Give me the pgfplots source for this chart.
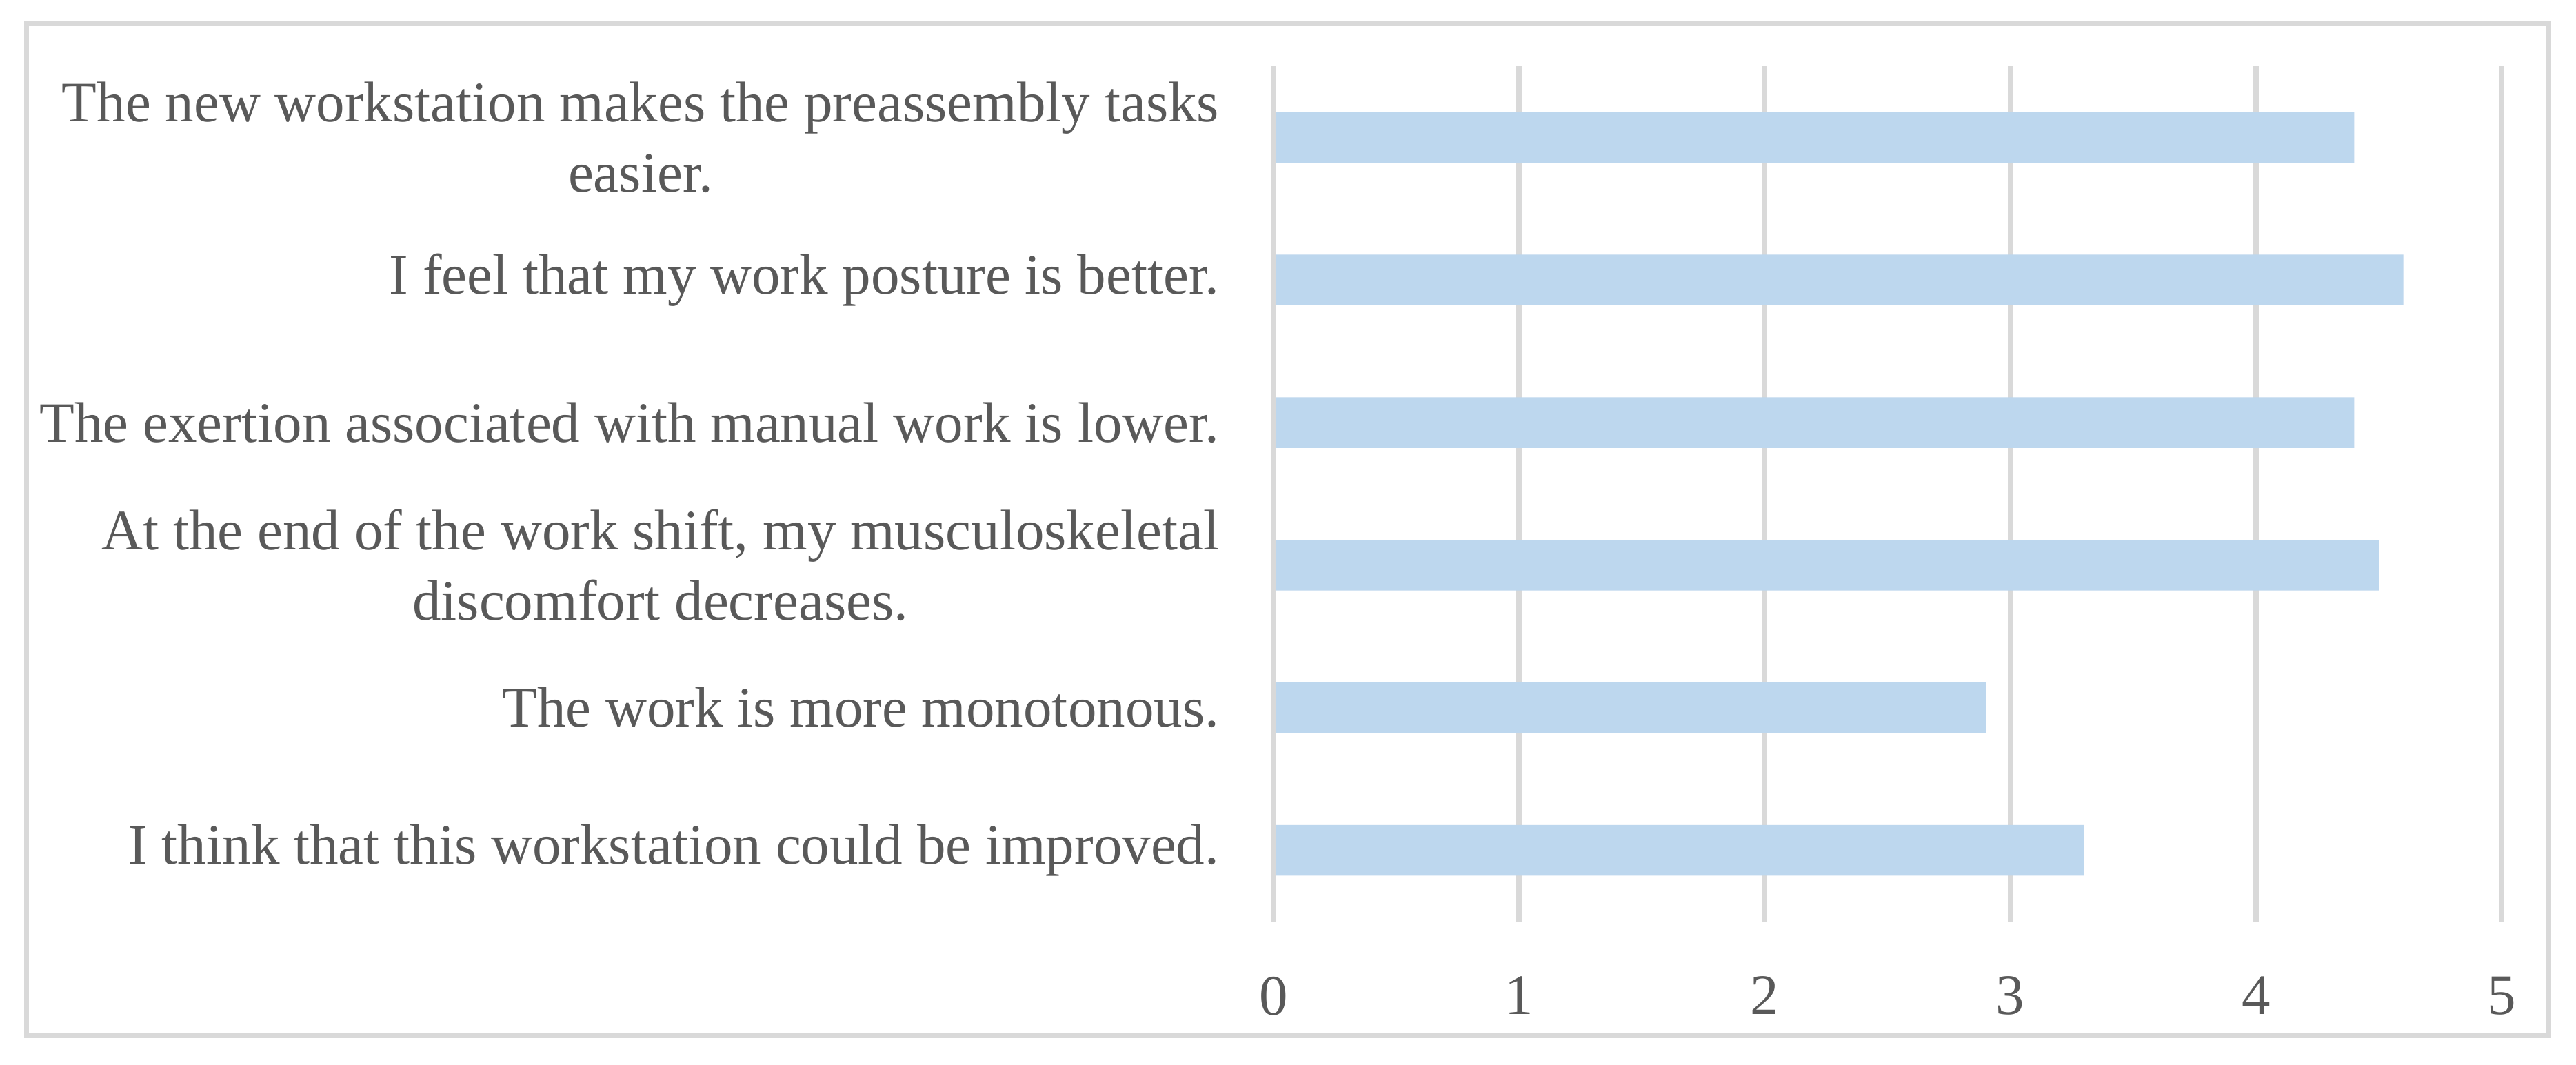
\documentclass[border=0pt]{standalone}
\usepackage{pgfplots}
\pgfplotsset{compat=1.18}
\usepackage{fontspec}
\setmainfont{Liberation Serif}
\definecolor{barc}{HTML}{BDD7EE}
\definecolor{gridc}{HTML}{D9D9D9}
\definecolor{txt}{HTML}{595959}
\begin{document}
\begin{tikzpicture}
\useasboundingbox (0,0) rectangle (373.6pt,154.5pt);
\fill[white] (0,0) rectangle (373.6pt,154.5pt);
\draw[gridc, line width=0.7pt] (3.85pt,4.25pt) rectangle (369.65pt,151.05pt);
\begin{axis}[
  at={(184.7pt,20.8pt)}, anchor=south west,
  scale only axis, width=178.1pt, height=124.1pt,
  xbar, bar width=7.35pt,
  xmin=0, xmax=5, ymin=0.5, ymax=6.5,
  xtick={0,1,2,3,4,5}, ytick={1,2,3,4,5,6},
  yticklabels={
    {I think that this workstation could be improved.},
    {The work is more monotonous.},
    {At the end of the work shift, my musculoskeletal\\discomfort decreases.},
    {The exertion associated with manual work is lower.},
    {I feel that my work posture is better.},
    {The new workstation makes the preassembly tasks\\easier.}},
  xmajorgrids, major grid style={gridc, line width=0.8pt},
  axis line style={draw=none}, major tick length=0pt, tick style={draw=none},
  /pgf/number format/assume math mode=true,
  yticklabel style={font={\fontsize{8.3pt}{10.2pt}\selectfont}, text=txt, inner sep=0pt, xshift=-7.7pt, align=center},
  xticklabel style={font={\fontsize{8.3pt}{10.2pt}\selectfont}, text=txt, inner sep=0pt, yshift=-7.8pt},
]
\addplot[fill=barc, draw=none] coordinates {(3.3,1) (2.9,2) (4.5,3) (4.4,4) (4.6,5) (4.4,6)};
\draw[gridc, line width=0.8pt] (axis cs:0,0.5) -- (axis cs:0,6.5);
\end{axis}
\end{tikzpicture}
\end{document}
